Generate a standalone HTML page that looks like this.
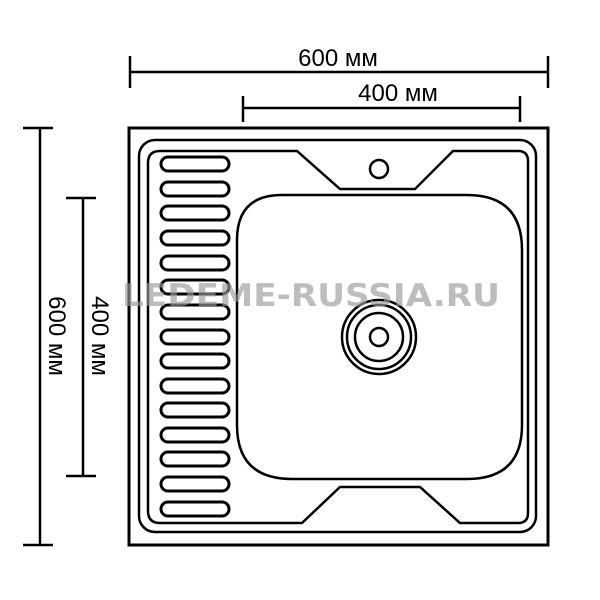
<!DOCTYPE html>
<html><head><meta charset="utf-8"><style>html,body{margin:0;padding:0;background:#fff}svg{display:block}</style></head>
<body>
<svg width="600" height="600" viewBox="0 0 600 600" xmlns="http://www.w3.org/2000/svg" font-family="Liberation Sans, sans-serif">
<g stroke="#000" stroke-width="2.5" fill="none">
<line x1="130" y1="72" x2="548" y2="72"/><line x1="130" y1="56" x2="130" y2="88"/><line x1="548" y1="56" x2="548" y2="88"/>
<line x1="243" y1="108" x2="520" y2="108"/><line x1="243" y1="96" x2="243" y2="122"/><line x1="520" y1="96" x2="520" y2="122"/>
<line x1="40" y1="128" x2="40" y2="545"/><line x1="23" y1="128" x2="53" y2="128"/><line x1="23" y1="545" x2="53" y2="545"/>
<line x1="83" y1="198" x2="83" y2="476"/><line x1="66" y1="198" x2="96" y2="198"/><line x1="66" y1="476" x2="96" y2="476"/>
<rect x="129" y="128" width="419" height="417" stroke-width="3"/>
<rect x="139" y="140" width="397" height="392" rx="16"/>
<path d="M160 151 H297 L340 189 H415 L453 151 H518 Q528 151 528 161 V513 Q528 523 518 523 H460 L420 487 H340 L302 523 H160 Q148 523 148 511 V163 Q148 151 160 151 Z"/>
<path d="M282 195 H467 Q522 195 522 250 V425 Q522 479 467 479 H292 Q237 479 237 425 V240 Q237 195 282 195 Z"/>
<circle cx="379" cy="169" r="9"/>
<circle cx="379" cy="337" r="37"/>
<circle cx="379" cy="337" r="32"/>
<circle cx="379" cy="337" r="24"/>
<circle cx="379" cy="337" r="9"/>
<g stroke-width="3">
<rect x="161" y="157" width="68" height="14" rx="7"/>
<rect x="161" y="182" width="68" height="14" rx="7"/>
<rect x="161" y="206" width="68" height="14" rx="7"/>
<rect x="161" y="231" width="68" height="14" rx="7"/>
<rect x="161" y="256" width="68" height="14" rx="7"/>
<rect x="161" y="280" width="68" height="14" rx="7"/>
<rect x="161" y="305" width="68" height="14" rx="7"/>
<rect x="161" y="330" width="68" height="14" rx="7"/>
<rect x="161" y="354" width="68" height="14" rx="7"/>
<rect x="161" y="379" width="68" height="14" rx="7"/>
<rect x="161" y="403" width="68" height="14" rx="7"/>
<rect x="161" y="428" width="68" height="14" rx="7"/>
<rect x="161" y="452" width="68" height="14" rx="7"/>
<rect x="161" y="477" width="68" height="14" rx="7"/>
<rect x="161" y="502" width="68" height="14" rx="7"/>
</g>
</g>
<text x="338" y="66" font-size="24" text-anchor="middle">600 мм</text>
<text x="398" y="101" font-size="24" text-anchor="middle">400 мм</text>
<text transform="translate(49,336) rotate(90)" font-size="24" text-anchor="middle">600 мм</text>
<text transform="translate(92,336) rotate(90)" font-size="24" text-anchor="middle">400 мм</text>
<text x="122" y="306" font-size="31" font-weight="bold" fill="#999" fill-opacity="0.65" textLength="378" lengthAdjust="spacingAndGlyphs" font-family="DejaVu Sans, sans-serif">LEDEME-RUSSIA.RU</text>
</svg>
</body></html>
